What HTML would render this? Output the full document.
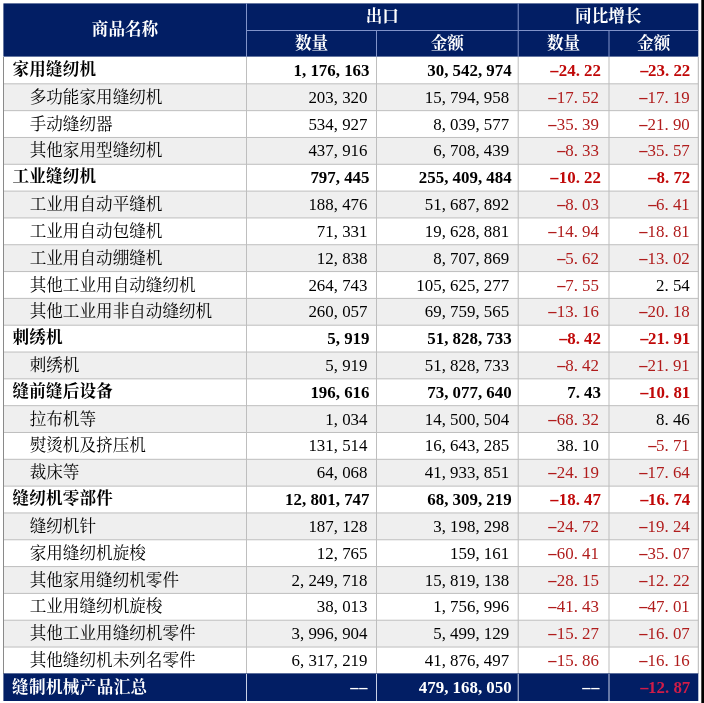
<!DOCTYPE html>
<html lang="zh-CN">
<head>
<meta charset="utf-8">
<title>缝制机械产品出口汇总</title>
<style>
html,body{margin:0;padding:0;background:#fff;}
body{width:704px;height:703px;position:relative;overflow:hidden;
 font-family:"Liberation Serif","Noto Serif CJK SC",serif;}
.grid{position:absolute;left:0;top:0;display:block;}
.c{position:absolute;white-space:nowrap;box-sizing:border-box;color:#000;
 font-size:16.6px;overflow:visible;}
.h{color:#fff;font-weight:700;text-align:center;}
.n{text-align:left;padding-left:9px;}
.n.b{letter-spacing:0.15px;}
.n.w{letter-spacing:0.35px;padding-left:8.5px;padding-top:0;}
.n.ind{padding-left:26.2px;padding-top:1px;}
.b{font-weight:700;}
.d{font-family:"Liberation Serif","DejaVu Serif",serif;text-align:right;
 font-size:16.9px;padding-right:9px;padding-top:1px;}
.d.b{padding-right:7px;}
.c3.b{padding-right:6.5px;}
.c4{padding-right:10px;}
.c4.b{padding-right:8px;}
.c5{padding-right:8.5px;}
.c5.b{padding-right:8px;}
.d i{font-style:normal;display:inline-block;width:.5em;text-align:left;}
.d i.m{text-align:center;transform:scaleX(1.9);}
.neg{color:#b01c1c;}
.neg.b{color:#c00808;}
.w{color:#fff;}
.d.w,.d.tneg{padding-top:0;}
.dd{font-weight:400;}
.c2.dd{padding-right:9.5px;}
.c4.dd{padding-right:10px;}
.tneg{color:#d01c48;}
</style>
</head>
<body>
<svg class="grid" width="704" height="703" viewBox="0 0 704 703">
<rect x="0" y="0" width="704" height="703" fill="#fff"/>
<rect x="3.5" y="83.82" width="694.80" height="26.82" fill="#efefef"/>
<rect x="3.5" y="137.46" width="694.80" height="26.82" fill="#efefef"/>
<rect x="3.5" y="191.10" width="694.80" height="26.82" fill="#efefef"/>
<rect x="3.5" y="244.74" width="694.80" height="26.82" fill="#efefef"/>
<rect x="3.5" y="298.38" width="694.80" height="26.82" fill="#efefef"/>
<rect x="3.5" y="352.02" width="694.80" height="26.82" fill="#efefef"/>
<rect x="3.5" y="405.66" width="694.80" height="26.82" fill="#efefef"/>
<rect x="3.5" y="459.30" width="694.80" height="26.82" fill="#efefef"/>
<rect x="3.5" y="512.94" width="694.80" height="26.82" fill="#efefef"/>
<rect x="3.5" y="566.58" width="694.80" height="26.82" fill="#efefef"/>
<rect x="3.5" y="620.22" width="694.80" height="26.82" fill="#efefef"/>
<rect x="3.5" y="83.32" width="694.80" height="1" fill="#bebebe"/>
<rect x="3.5" y="110.14" width="694.80" height="1" fill="#bebebe"/>
<rect x="3.5" y="136.96" width="694.80" height="1" fill="#bebebe"/>
<rect x="3.5" y="163.78" width="694.80" height="1" fill="#bebebe"/>
<rect x="3.5" y="190.60" width="694.80" height="1" fill="#bebebe"/>
<rect x="3.5" y="217.42" width="694.80" height="1" fill="#bebebe"/>
<rect x="3.5" y="244.24" width="694.80" height="1" fill="#bebebe"/>
<rect x="3.5" y="271.06" width="694.80" height="1" fill="#bebebe"/>
<rect x="3.5" y="297.88" width="694.80" height="1" fill="#bebebe"/>
<rect x="3.5" y="324.70" width="694.80" height="1" fill="#bebebe"/>
<rect x="3.5" y="351.52" width="694.80" height="1" fill="#bebebe"/>
<rect x="3.5" y="378.34" width="694.80" height="1" fill="#bebebe"/>
<rect x="3.5" y="405.16" width="694.80" height="1" fill="#bebebe"/>
<rect x="3.5" y="431.98" width="694.80" height="1" fill="#bebebe"/>
<rect x="3.5" y="458.80" width="694.80" height="1" fill="#bebebe"/>
<rect x="3.5" y="485.62" width="694.80" height="1" fill="#bebebe"/>
<rect x="3.5" y="512.44" width="694.80" height="1" fill="#bebebe"/>
<rect x="3.5" y="539.26" width="694.80" height="1" fill="#bebebe"/>
<rect x="3.5" y="566.08" width="694.80" height="1" fill="#bebebe"/>
<rect x="3.5" y="592.90" width="694.80" height="1" fill="#bebebe"/>
<rect x="3.5" y="619.72" width="694.80" height="1" fill="#bebebe"/>
<rect x="3.5" y="646.54" width="694.80" height="1" fill="#bebebe"/>
<rect x="246.00" y="57.0" width="1" height="616.86" fill="#bebebe"/>
<rect x="376.00" y="57.0" width="1" height="616.86" fill="#bebebe"/>
<rect x="517.70" y="57.0" width="1" height="616.86" fill="#bebebe"/>
<rect x="608.50" y="57.0" width="1" height="616.86" fill="#bebebe"/>
<rect x="3.00" y="57.0" width="1" height="616.86" fill="#8a8a8a"/>
<rect x="697.80" y="57.0" width="1" height="616.86" fill="#b5b5b5"/>
<rect x="3.4" y="3.4" width="694.90" height="53.20" fill="#021e64"/>
<rect x="246.5" y="30" width="451.80" height="1" fill="#8193c9"/>
<rect x="246.00" y="3.2" width="1" height="53.80" fill="#8193c9"/>
<rect x="517.70" y="3.2" width="1" height="53.80" fill="#8193c9"/>
<rect x="376.00" y="30.5" width="1" height="26.50" fill="#8193c9"/>
<rect x="608.50" y="30.5" width="1" height="26.50" fill="#8193c9"/>
<rect x="3.4" y="673.36" width="694.90" height="27.64" fill="#021e64"/>
<rect x="246.00" y="673.86" width="1" height="27.14" fill="#c9d0e6"/>
<rect x="376.00" y="673.86" width="1" height="27.14" fill="#c9d0e6"/>
<rect x="517.70" y="673.86" width="1" height="27.14" fill="#c9d0e6"/>
<rect x="608.50" y="673.86" width="1" height="27.14" fill="#c9d0e6"/>
<rect x="701.3" y="0" width="2.7" height="703" fill="#000"/>
</svg>
<div class="c h" style="left:3.50px;width:243.00px;top:3.00px;height:54.00px;line-height:54.00px">商品名称</div>
<div class="c h" style="left:246.50px;width:271.70px;top:3.00px;height:27.50px;line-height:27.50px">出口</div>
<div class="c h" style="left:518.20px;width:180.10px;top:3.00px;height:27.50px;line-height:27.50px">同比增长</div>
<div class="c h" style="left:246.50px;width:130.00px;top:30.50px;height:26.50px;line-height:26.50px">数量</div>
<div class="c h" style="left:376.50px;width:141.70px;top:30.50px;height:26.50px;line-height:26.50px">金额</div>
<div class="c h" style="left:518.20px;width:90.80px;top:30.50px;height:26.50px;line-height:26.50px">数量</div>
<div class="c h" style="left:609.00px;width:89.30px;top:30.50px;height:26.50px;line-height:26.50px">金额</div>
<div class="c n b" style="left:3.50px;width:243.00px;top:57.00px;height:26.82px;line-height:26.82px">家用缝纫机</div>
<div class="c d c2 b" style="left:246.50px;width:130.00px;top:57.00px;height:26.82px;line-height:26.82px">1<i>,</i>176<i>,</i>163</div>
<div class="c d c3 b" style="left:376.50px;width:141.70px;top:57.00px;height:26.82px;line-height:26.82px">30<i>,</i>542<i>,</i>974</div>
<div class="c d c4 b neg" style="left:518.20px;width:90.80px;top:57.00px;height:26.82px;line-height:26.82px"><i class="m">-</i>24<i>.</i>22</div>
<div class="c d c5 b neg" style="left:609.00px;width:89.30px;top:57.00px;height:26.82px;line-height:26.82px"><i class="m">-</i>23<i>.</i>22</div>
<div class="c n ind" style="left:3.50px;width:243.00px;top:83.82px;height:26.82px;line-height:26.82px">多功能家用缝纫机</div>
<div class="c d c2" style="left:246.50px;width:130.00px;top:83.82px;height:26.82px;line-height:26.82px">203<i>,</i>320</div>
<div class="c d c3" style="left:376.50px;width:141.70px;top:83.82px;height:26.82px;line-height:26.82px">15<i>,</i>794<i>,</i>958</div>
<div class="c d c4 neg" style="left:518.20px;width:90.80px;top:83.82px;height:26.82px;line-height:26.82px"><i class="m">-</i>17<i>.</i>52</div>
<div class="c d c5 neg" style="left:609.00px;width:89.30px;top:83.82px;height:26.82px;line-height:26.82px"><i class="m">-</i>17<i>.</i>19</div>
<div class="c n ind" style="left:3.50px;width:243.00px;top:110.64px;height:26.82px;line-height:26.82px">手动缝纫器</div>
<div class="c d c2" style="left:246.50px;width:130.00px;top:110.64px;height:26.82px;line-height:26.82px">534<i>,</i>927</div>
<div class="c d c3" style="left:376.50px;width:141.70px;top:110.64px;height:26.82px;line-height:26.82px">8<i>,</i>039<i>,</i>577</div>
<div class="c d c4 neg" style="left:518.20px;width:90.80px;top:110.64px;height:26.82px;line-height:26.82px"><i class="m">-</i>35<i>.</i>39</div>
<div class="c d c5 neg" style="left:609.00px;width:89.30px;top:110.64px;height:26.82px;line-height:26.82px"><i class="m">-</i>21<i>.</i>90</div>
<div class="c n ind" style="left:3.50px;width:243.00px;top:137.46px;height:26.82px;line-height:26.82px">其他家用型缝纫机</div>
<div class="c d c2" style="left:246.50px;width:130.00px;top:137.46px;height:26.82px;line-height:26.82px">437<i>,</i>916</div>
<div class="c d c3" style="left:376.50px;width:141.70px;top:137.46px;height:26.82px;line-height:26.82px">6<i>,</i>708<i>,</i>439</div>
<div class="c d c4 neg" style="left:518.20px;width:90.80px;top:137.46px;height:26.82px;line-height:26.82px"><i class="m">-</i>8<i>.</i>33</div>
<div class="c d c5 neg" style="left:609.00px;width:89.30px;top:137.46px;height:26.82px;line-height:26.82px"><i class="m">-</i>35<i>.</i>57</div>
<div class="c n b" style="left:3.50px;width:243.00px;top:164.28px;height:26.82px;line-height:26.82px">工业缝纫机</div>
<div class="c d c2 b" style="left:246.50px;width:130.00px;top:164.28px;height:26.82px;line-height:26.82px">797<i>,</i>445</div>
<div class="c d c3 b" style="left:376.50px;width:141.70px;top:164.28px;height:26.82px;line-height:26.82px">255<i>,</i>409<i>,</i>484</div>
<div class="c d c4 b neg" style="left:518.20px;width:90.80px;top:164.28px;height:26.82px;line-height:26.82px"><i class="m">-</i>10<i>.</i>22</div>
<div class="c d c5 b neg" style="left:609.00px;width:89.30px;top:164.28px;height:26.82px;line-height:26.82px"><i class="m">-</i>8<i>.</i>72</div>
<div class="c n ind" style="left:3.50px;width:243.00px;top:191.10px;height:26.82px;line-height:26.82px">工业用自动平缝机</div>
<div class="c d c2" style="left:246.50px;width:130.00px;top:191.10px;height:26.82px;line-height:26.82px">188<i>,</i>476</div>
<div class="c d c3" style="left:376.50px;width:141.70px;top:191.10px;height:26.82px;line-height:26.82px">51<i>,</i>687<i>,</i>892</div>
<div class="c d c4 neg" style="left:518.20px;width:90.80px;top:191.10px;height:26.82px;line-height:26.82px"><i class="m">-</i>8<i>.</i>03</div>
<div class="c d c5 neg" style="left:609.00px;width:89.30px;top:191.10px;height:26.82px;line-height:26.82px"><i class="m">-</i>6<i>.</i>41</div>
<div class="c n ind" style="left:3.50px;width:243.00px;top:217.92px;height:26.82px;line-height:26.82px">工业用自动包缝机</div>
<div class="c d c2" style="left:246.50px;width:130.00px;top:217.92px;height:26.82px;line-height:26.82px">71<i>,</i>331</div>
<div class="c d c3" style="left:376.50px;width:141.70px;top:217.92px;height:26.82px;line-height:26.82px">19<i>,</i>628<i>,</i>881</div>
<div class="c d c4 neg" style="left:518.20px;width:90.80px;top:217.92px;height:26.82px;line-height:26.82px"><i class="m">-</i>14<i>.</i>94</div>
<div class="c d c5 neg" style="left:609.00px;width:89.30px;top:217.92px;height:26.82px;line-height:26.82px"><i class="m">-</i>18<i>.</i>81</div>
<div class="c n ind" style="left:3.50px;width:243.00px;top:244.74px;height:26.82px;line-height:26.82px">工业用自动绷缝机</div>
<div class="c d c2" style="left:246.50px;width:130.00px;top:244.74px;height:26.82px;line-height:26.82px">12<i>,</i>838</div>
<div class="c d c3" style="left:376.50px;width:141.70px;top:244.74px;height:26.82px;line-height:26.82px">8<i>,</i>707<i>,</i>869</div>
<div class="c d c4 neg" style="left:518.20px;width:90.80px;top:244.74px;height:26.82px;line-height:26.82px"><i class="m">-</i>5<i>.</i>62</div>
<div class="c d c5 neg" style="left:609.00px;width:89.30px;top:244.74px;height:26.82px;line-height:26.82px"><i class="m">-</i>13<i>.</i>02</div>
<div class="c n ind" style="left:3.50px;width:243.00px;top:271.56px;height:26.82px;line-height:26.82px">其他工业用自动缝纫机</div>
<div class="c d c2" style="left:246.50px;width:130.00px;top:271.56px;height:26.82px;line-height:26.82px">264<i>,</i>743</div>
<div class="c d c3" style="left:376.50px;width:141.70px;top:271.56px;height:26.82px;line-height:26.82px">105<i>,</i>625<i>,</i>277</div>
<div class="c d c4 neg" style="left:518.20px;width:90.80px;top:271.56px;height:26.82px;line-height:26.82px"><i class="m">-</i>7<i>.</i>55</div>
<div class="c d c5" style="left:609.00px;width:89.30px;top:271.56px;height:26.82px;line-height:26.82px">2<i>.</i>54</div>
<div class="c n ind" style="left:3.50px;width:243.00px;top:298.38px;height:26.82px;line-height:26.82px">其他工业用非自动缝纫机</div>
<div class="c d c2" style="left:246.50px;width:130.00px;top:298.38px;height:26.82px;line-height:26.82px">260<i>,</i>057</div>
<div class="c d c3" style="left:376.50px;width:141.70px;top:298.38px;height:26.82px;line-height:26.82px">69<i>,</i>759<i>,</i>565</div>
<div class="c d c4 neg" style="left:518.20px;width:90.80px;top:298.38px;height:26.82px;line-height:26.82px"><i class="m">-</i>13<i>.</i>16</div>
<div class="c d c5 neg" style="left:609.00px;width:89.30px;top:298.38px;height:26.82px;line-height:26.82px"><i class="m">-</i>20<i>.</i>18</div>
<div class="c n b" style="left:3.50px;width:243.00px;top:325.20px;height:26.82px;line-height:26.82px">刺绣机</div>
<div class="c d c2 b" style="left:246.50px;width:130.00px;top:325.20px;height:26.82px;line-height:26.82px">5<i>,</i>919</div>
<div class="c d c3 b" style="left:376.50px;width:141.70px;top:325.20px;height:26.82px;line-height:26.82px">51<i>,</i>828<i>,</i>733</div>
<div class="c d c4 b neg" style="left:518.20px;width:90.80px;top:325.20px;height:26.82px;line-height:26.82px"><i class="m">-</i>8<i>.</i>42</div>
<div class="c d c5 b neg" style="left:609.00px;width:89.30px;top:325.20px;height:26.82px;line-height:26.82px"><i class="m">-</i>21<i>.</i>91</div>
<div class="c n ind" style="left:3.50px;width:243.00px;top:352.02px;height:26.82px;line-height:26.82px">刺绣机</div>
<div class="c d c2" style="left:246.50px;width:130.00px;top:352.02px;height:26.82px;line-height:26.82px">5<i>,</i>919</div>
<div class="c d c3" style="left:376.50px;width:141.70px;top:352.02px;height:26.82px;line-height:26.82px">51<i>,</i>828<i>,</i>733</div>
<div class="c d c4 neg" style="left:518.20px;width:90.80px;top:352.02px;height:26.82px;line-height:26.82px"><i class="m">-</i>8<i>.</i>42</div>
<div class="c d c5 neg" style="left:609.00px;width:89.30px;top:352.02px;height:26.82px;line-height:26.82px"><i class="m">-</i>21<i>.</i>91</div>
<div class="c n b" style="left:3.50px;width:243.00px;top:378.84px;height:26.82px;line-height:26.82px">缝前缝后设备</div>
<div class="c d c2 b" style="left:246.50px;width:130.00px;top:378.84px;height:26.82px;line-height:26.82px">196<i>,</i>616</div>
<div class="c d c3 b" style="left:376.50px;width:141.70px;top:378.84px;height:26.82px;line-height:26.82px">73<i>,</i>077<i>,</i>640</div>
<div class="c d c4 b" style="left:518.20px;width:90.80px;top:378.84px;height:26.82px;line-height:26.82px">7<i>.</i>43</div>
<div class="c d c5 b neg" style="left:609.00px;width:89.30px;top:378.84px;height:26.82px;line-height:26.82px"><i class="m">-</i>10<i>.</i>81</div>
<div class="c n ind" style="left:3.50px;width:243.00px;top:405.66px;height:26.82px;line-height:26.82px">拉布机等</div>
<div class="c d c2" style="left:246.50px;width:130.00px;top:405.66px;height:26.82px;line-height:26.82px">1<i>,</i>034</div>
<div class="c d c3" style="left:376.50px;width:141.70px;top:405.66px;height:26.82px;line-height:26.82px">14<i>,</i>500<i>,</i>504</div>
<div class="c d c4 neg" style="left:518.20px;width:90.80px;top:405.66px;height:26.82px;line-height:26.82px"><i class="m">-</i>68<i>.</i>32</div>
<div class="c d c5" style="left:609.00px;width:89.30px;top:405.66px;height:26.82px;line-height:26.82px">8<i>.</i>46</div>
<div class="c n ind" style="left:3.50px;width:243.00px;top:432.48px;height:26.82px;line-height:26.82px">熨烫机及挤压机</div>
<div class="c d c2" style="left:246.50px;width:130.00px;top:432.48px;height:26.82px;line-height:26.82px">131<i>,</i>514</div>
<div class="c d c3" style="left:376.50px;width:141.70px;top:432.48px;height:26.82px;line-height:26.82px">16<i>,</i>643<i>,</i>285</div>
<div class="c d c4" style="left:518.20px;width:90.80px;top:432.48px;height:26.82px;line-height:26.82px">38<i>.</i>10</div>
<div class="c d c5 neg" style="left:609.00px;width:89.30px;top:432.48px;height:26.82px;line-height:26.82px"><i class="m">-</i>5<i>.</i>71</div>
<div class="c n ind" style="left:3.50px;width:243.00px;top:459.30px;height:26.82px;line-height:26.82px">裁床等</div>
<div class="c d c2" style="left:246.50px;width:130.00px;top:459.30px;height:26.82px;line-height:26.82px">64<i>,</i>068</div>
<div class="c d c3" style="left:376.50px;width:141.70px;top:459.30px;height:26.82px;line-height:26.82px">41<i>,</i>933<i>,</i>851</div>
<div class="c d c4 neg" style="left:518.20px;width:90.80px;top:459.30px;height:26.82px;line-height:26.82px"><i class="m">-</i>24<i>.</i>19</div>
<div class="c d c5 neg" style="left:609.00px;width:89.30px;top:459.30px;height:26.82px;line-height:26.82px"><i class="m">-</i>17<i>.</i>64</div>
<div class="c n b" style="left:3.50px;width:243.00px;top:486.12px;height:26.82px;line-height:26.82px">缝纫机零部件</div>
<div class="c d c2 b" style="left:246.50px;width:130.00px;top:486.12px;height:26.82px;line-height:26.82px">12<i>,</i>801<i>,</i>747</div>
<div class="c d c3 b" style="left:376.50px;width:141.70px;top:486.12px;height:26.82px;line-height:26.82px">68<i>,</i>309<i>,</i>219</div>
<div class="c d c4 b neg" style="left:518.20px;width:90.80px;top:486.12px;height:26.82px;line-height:26.82px"><i class="m">-</i>18<i>.</i>47</div>
<div class="c d c5 b neg" style="left:609.00px;width:89.30px;top:486.12px;height:26.82px;line-height:26.82px"><i class="m">-</i>16<i>.</i>74</div>
<div class="c n ind" style="left:3.50px;width:243.00px;top:512.94px;height:26.82px;line-height:26.82px">缝纫机针</div>
<div class="c d c2" style="left:246.50px;width:130.00px;top:512.94px;height:26.82px;line-height:26.82px">187<i>,</i>128</div>
<div class="c d c3" style="left:376.50px;width:141.70px;top:512.94px;height:26.82px;line-height:26.82px">3<i>,</i>198<i>,</i>298</div>
<div class="c d c4 neg" style="left:518.20px;width:90.80px;top:512.94px;height:26.82px;line-height:26.82px"><i class="m">-</i>24<i>.</i>72</div>
<div class="c d c5 neg" style="left:609.00px;width:89.30px;top:512.94px;height:26.82px;line-height:26.82px"><i class="m">-</i>19<i>.</i>24</div>
<div class="c n ind" style="left:3.50px;width:243.00px;top:539.76px;height:26.82px;line-height:26.82px">家用缝纫机旋梭</div>
<div class="c d c2" style="left:246.50px;width:130.00px;top:539.76px;height:26.82px;line-height:26.82px">12<i>,</i>765</div>
<div class="c d c3" style="left:376.50px;width:141.70px;top:539.76px;height:26.82px;line-height:26.82px">159<i>,</i>161</div>
<div class="c d c4 neg" style="left:518.20px;width:90.80px;top:539.76px;height:26.82px;line-height:26.82px"><i class="m">-</i>60<i>.</i>41</div>
<div class="c d c5 neg" style="left:609.00px;width:89.30px;top:539.76px;height:26.82px;line-height:26.82px"><i class="m">-</i>35<i>.</i>07</div>
<div class="c n ind" style="left:3.50px;width:243.00px;top:566.58px;height:26.82px;line-height:26.82px">其他家用缝纫机零件</div>
<div class="c d c2" style="left:246.50px;width:130.00px;top:566.58px;height:26.82px;line-height:26.82px">2<i>,</i>249<i>,</i>718</div>
<div class="c d c3" style="left:376.50px;width:141.70px;top:566.58px;height:26.82px;line-height:26.82px">15<i>,</i>819<i>,</i>138</div>
<div class="c d c4 neg" style="left:518.20px;width:90.80px;top:566.58px;height:26.82px;line-height:26.82px"><i class="m">-</i>28<i>.</i>15</div>
<div class="c d c5 neg" style="left:609.00px;width:89.30px;top:566.58px;height:26.82px;line-height:26.82px"><i class="m">-</i>12<i>.</i>22</div>
<div class="c n ind" style="left:3.50px;width:243.00px;top:593.40px;height:26.82px;line-height:26.82px">工业用缝纫机旋梭</div>
<div class="c d c2" style="left:246.50px;width:130.00px;top:593.40px;height:26.82px;line-height:26.82px">38<i>,</i>013</div>
<div class="c d c3" style="left:376.50px;width:141.70px;top:593.40px;height:26.82px;line-height:26.82px">1<i>,</i>756<i>,</i>996</div>
<div class="c d c4 neg" style="left:518.20px;width:90.80px;top:593.40px;height:26.82px;line-height:26.82px"><i class="m">-</i>41<i>.</i>43</div>
<div class="c d c5 neg" style="left:609.00px;width:89.30px;top:593.40px;height:26.82px;line-height:26.82px"><i class="m">-</i>47<i>.</i>01</div>
<div class="c n ind" style="left:3.50px;width:243.00px;top:620.22px;height:26.82px;line-height:26.82px">其他工业用缝纫机零件</div>
<div class="c d c2" style="left:246.50px;width:130.00px;top:620.22px;height:26.82px;line-height:26.82px">3<i>,</i>996<i>,</i>904</div>
<div class="c d c3" style="left:376.50px;width:141.70px;top:620.22px;height:26.82px;line-height:26.82px">5<i>,</i>499<i>,</i>129</div>
<div class="c d c4 neg" style="left:518.20px;width:90.80px;top:620.22px;height:26.82px;line-height:26.82px"><i class="m">-</i>15<i>.</i>27</div>
<div class="c d c5 neg" style="left:609.00px;width:89.30px;top:620.22px;height:26.82px;line-height:26.82px"><i class="m">-</i>16<i>.</i>07</div>
<div class="c n ind" style="left:3.50px;width:243.00px;top:647.04px;height:26.82px;line-height:26.82px">其他缝纫机未列名零件</div>
<div class="c d c2" style="left:246.50px;width:130.00px;top:647.04px;height:26.82px;line-height:26.82px">6<i>,</i>317<i>,</i>219</div>
<div class="c d c3" style="left:376.50px;width:141.70px;top:647.04px;height:26.82px;line-height:26.82px">41<i>,</i>876<i>,</i>497</div>
<div class="c d c4 neg" style="left:518.20px;width:90.80px;top:647.04px;height:26.82px;line-height:26.82px"><i class="m">-</i>15<i>.</i>86</div>
<div class="c d c5 neg" style="left:609.00px;width:89.30px;top:647.04px;height:26.82px;line-height:26.82px"><i class="m">-</i>16<i>.</i>16</div>
<div class="c n b w" style="left:3.50px;width:243.00px;top:673.86px;height:27.14px;line-height:27.14px">缝制机械产品汇总</div>
<div class="c d c2 b w dd" style="left:246.50px;width:130.00px;top:673.86px;height:27.14px;line-height:27.14px"><i class="m">-</i><i class="m">-</i></div>
<div class="c d c3 b w" style="left:376.50px;width:141.70px;top:673.86px;height:27.14px;line-height:27.14px">479<i>,</i>168<i>,</i>050</div>
<div class="c d c4 b w dd" style="left:518.20px;width:90.80px;top:673.86px;height:27.14px;line-height:27.14px"><i class="m">-</i><i class="m">-</i></div>
<div class="c d c5 b tneg" style="left:609.00px;width:89.30px;top:673.86px;height:27.14px;line-height:27.14px"><i class="m">-</i>12<i>.</i>87</div>
</body>
</html>
